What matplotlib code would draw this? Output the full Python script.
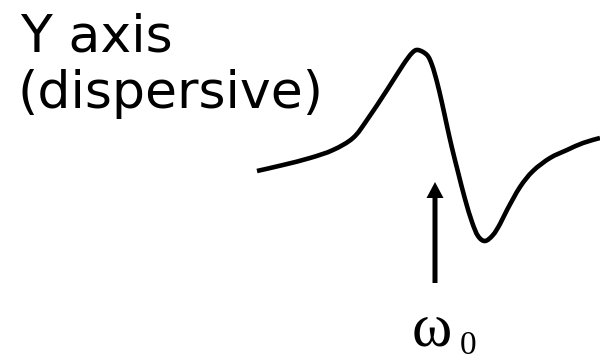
import matplotlib
matplotlib.use('Agg')
import matplotlib.pyplot as plt
from matplotlib.path import Path
from matplotlib.patches import PathPatch
import numpy as np

# dispersive line shape, traced in canvas units (x to the right, y up)
x_pos = [257, 283, 310, 333, 353, 367, 387, 403, 412, 418, 427, 432, 437, 442,
         447, 452, 458, 465, 472, 478, 485, 493, 500, 507, 520, 533, 550, 567,
         583, 600]
signal = [189, 195, 202, 210, 222, 240, 270, 295, 307, 310, 305, 295, 278, 257,
          234, 212, 188, 161, 138, 124, 119, 125, 136, 150, 173, 189, 202, 210,
          217, 222]

omega0_x = 435
arrow_tail = 77
arrow_tip = 178


def smooth_path(xs, ys):
    # Catmull-Rom through the traced points, handed to matplotlib as cubic Beziers
    pts = np.column_stack([xs, ys]).astype(float)
    n = len(pts)
    verts = [pts[0]]
    codes = [Path.MOVETO]
    for i in range(n - 1):
        p0 = pts[max(i - 1, 0)]
        p1 = pts[i]
        p2 = pts[i + 1]
        p3 = pts[min(i + 2, n - 1)]
        verts += [p1 + (p2 - p0) / 6., p2 - (p3 - p1) / 6., p2]
        codes += [Path.CURVE4] * 3
    return Path(verts, codes)


fig = plt.figure(figsize=(6, 3.6), dpi=100)
ax = fig.add_axes([0, 0, 1, 1])
ax.set_xlim(0, 600)
ax.set_ylim(0, 360)
ax.axis('off')

ax.add_patch(PathPatch(smooth_path(x_pos, signal), fill=False, color='black',
                       lw=3.3, capstyle='butt', joinstyle='round'))

ax.arrow(omega0_x, arrow_tail, 0, arrow_tip - arrow_tail, width=5,
         head_width=17, head_length=16, length_includes_head=True,
         color='black', lw=0)

ax.text(20, 308, 'Y axis', fontsize=37.5, family='DejaVu Sans',
        ha='left', va='baseline')
ax.text(18, 252, '(dispersive)', fontsize=37.5, family='DejaVu Sans',
        ha='left', va='baseline')

ax.text(432, 15, '\u03c9', fontsize=44, family='Liberation Serif',
        ha='center', va='baseline')
ax.text(460, 6, '0', fontsize=24, family='Liberation Serif',
        ha='left', va='baseline')

fig.savefig('out.png', dpi=100)
